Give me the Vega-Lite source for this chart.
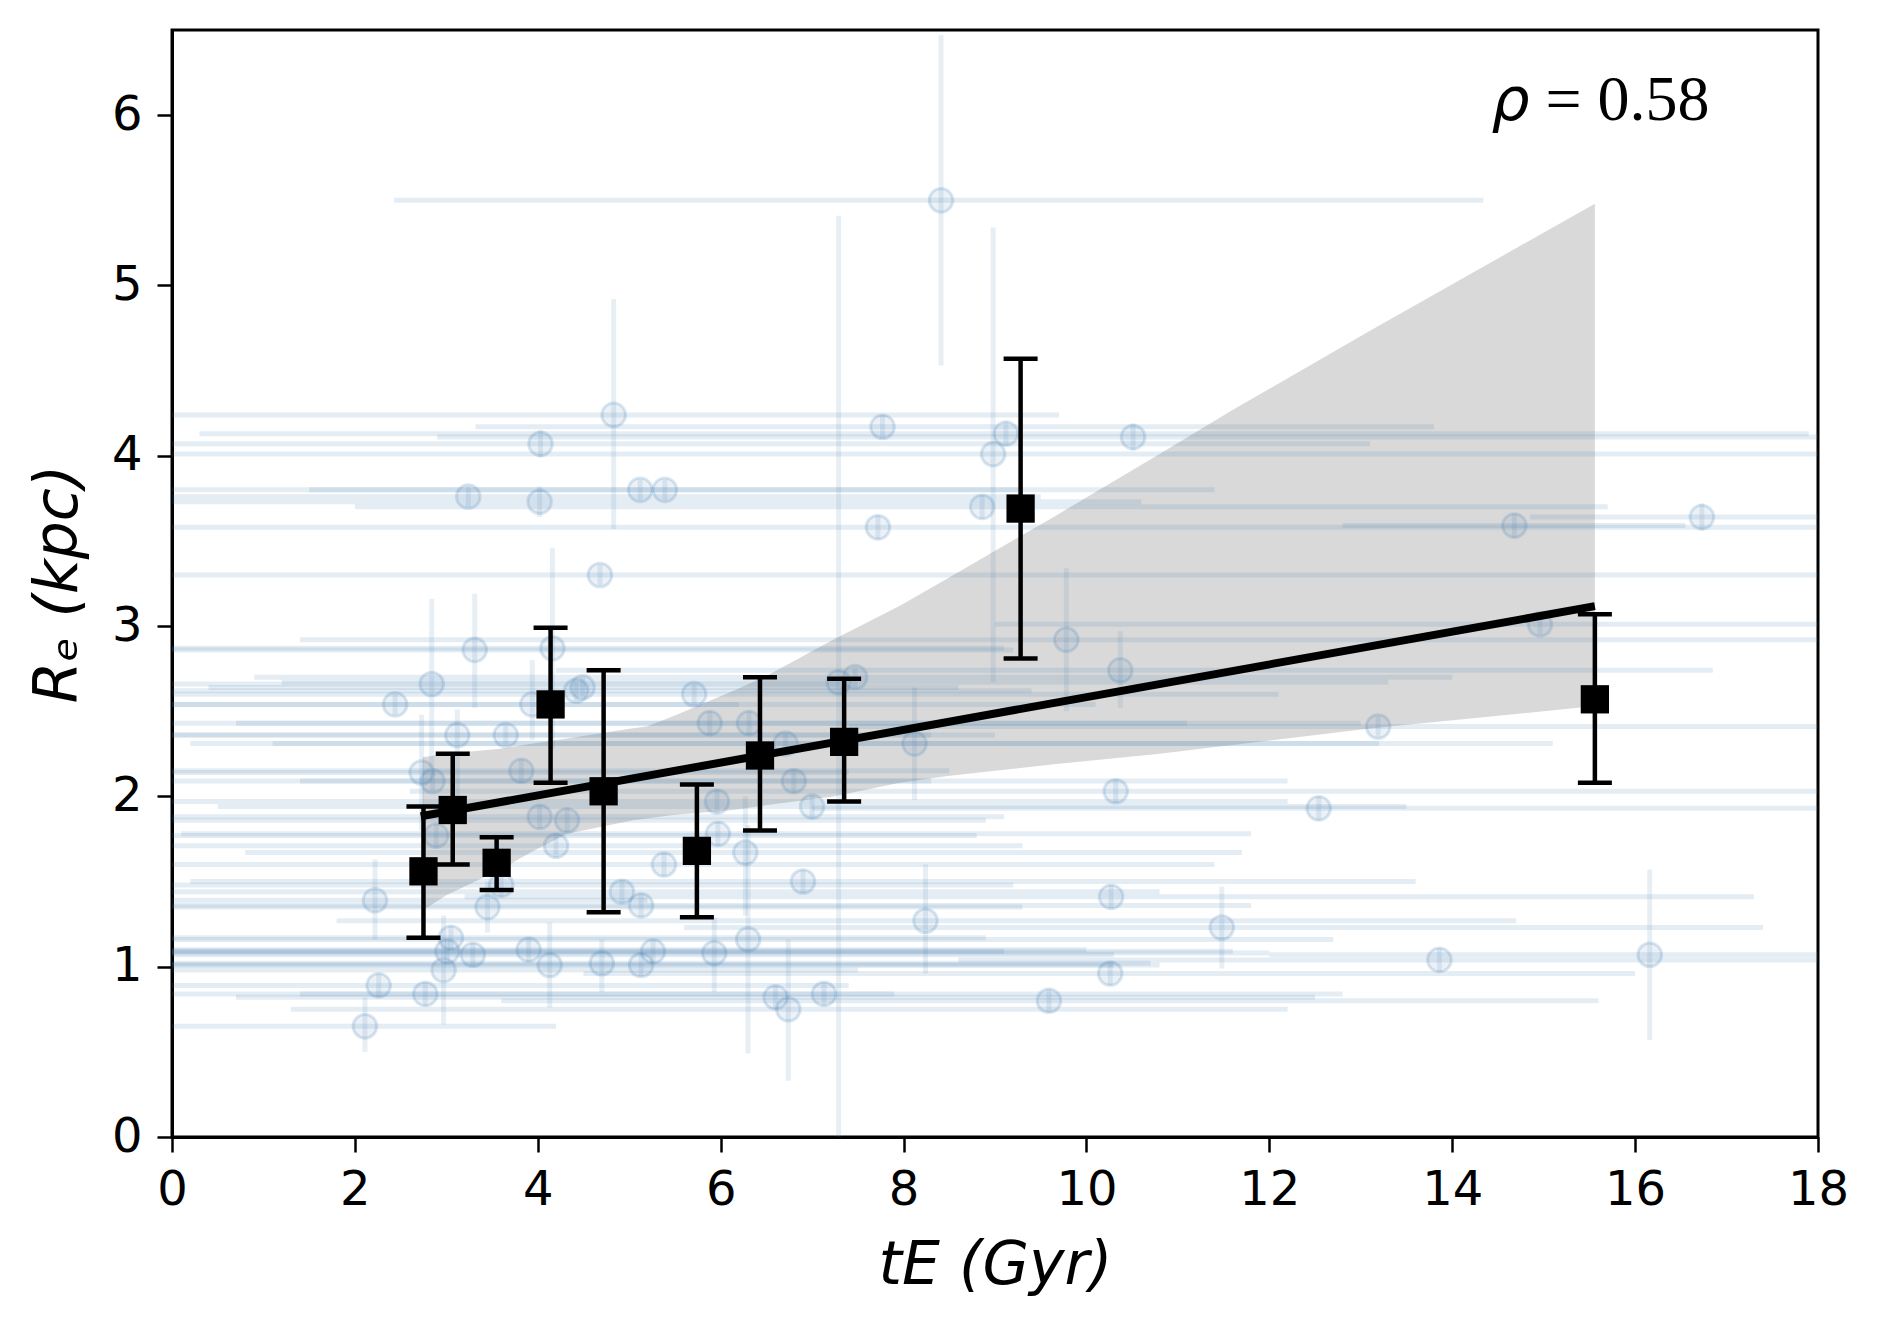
{
  "$schema": "https://vega.github.io/schema/vega-lite/v6.json",
  "width": 1646,
  "height": 1107,
  "autosize": "none",
  "padding": {"left": 172, "top": 30, "right": 61, "bottom": 189},
  "background": "white",
  "datasets": {
    "pts": [
      {"x": 8.41, "y": 5.50, "xlo": 2.43, "xhi": 14.34, "ylo": 4.53, "yhi": 6.47},
      {"x": 4.83, "y": 4.24, "xlo": -0.5, "xhi": 9.7, "ylo": 3.57, "yhi": 4.92},
      {"x": 4.03, "y": 4.07, "xlo": -5.0, "xhi": 13.1, "ylo": 3.99, "yhi": 4.15},
      {"x": 7.77, "y": 4.17, "xlo": 3.32, "xhi": 13.8, "ylo": 4.10, "yhi": 4.24},
      {"x": 10.51, "y": 4.11, "xlo": 2.9, "xhi": 18.5, "ylo": 4.03, "yhi": 4.19},
      {"x": 9.12, "y": 4.13, "xlo": 0.3, "xhi": 17.9, "ylo": 4.06, "yhi": 4.20},
      {"x": 8.98, "y": 4.01, "xlo": -1.0, "xhi": 19.0, "ylo": 2.67, "yhi": 5.34},
      {"x": 3.24, "y": 3.76, "xlo": -3.0, "xhi": 9.5, "ylo": 3.70, "yhi": 3.82},
      {"x": 4.02, "y": 3.73, "xlo": -2.5, "xhi": 10.6, "ylo": 3.64, "yhi": 3.82},
      {"x": 5.12, "y": 3.80, "xlo": -1.2, "xhi": 11.4, "ylo": 3.74, "yhi": 3.86},
      {"x": 5.39, "y": 3.80, "xlo": 1.5, "xhi": 9.3, "ylo": 3.74, "yhi": 3.86},
      {"x": 7.72, "y": 3.58, "xlo": -2.0, "xhi": 18.4, "ylo": 3.51, "yhi": 3.65},
      {"x": 8.86, "y": 3.70, "xlo": 2.0, "xhi": 15.7, "ylo": 3.63, "yhi": 3.77},
      {"x": 14.68, "y": 3.59, "xlo": 12.8, "xhi": 16.55, "ylo": 3.52, "yhi": 3.66},
      {"x": 16.73, "y": 3.64, "xlo": 14.85, "xhi": 18.6, "ylo": 3.56, "yhi": 3.72},
      {"x": 4.68, "y": 3.30, "xlo": -1.0, "xhi": 18.3, "ylo": 3.24, "yhi": 3.36},
      {"x": 4.16, "y": 2.87, "xlo": -0.8, "xhi": 9.1, "ylo": 2.28, "yhi": 3.46},
      {"x": 3.31, "y": 2.86, "xlo": -2.5, "xhi": 9.2, "ylo": 2.52, "yhi": 3.19},
      {"x": 9.78, "y": 2.92, "xlo": 1.4, "xhi": 18.2, "ylo": 2.50, "yhi": 3.34},
      {"x": 14.96, "y": 3.01, "xlo": 9.0, "xhi": 18.8, "ylo": 2.95, "yhi": 3.07},
      {"x": 2.84, "y": 2.66, "xlo": -1.6, "xhi": 7.3, "ylo": 2.17, "yhi": 3.16},
      {"x": 2.44, "y": 2.54, "xlo": -1.3, "xhi": 6.2, "ylo": 2.48, "yhi": 2.60},
      {"x": 4.42, "y": 2.62, "xlo": -0.6, "xhi": 9.4, "ylo": 2.56, "yhi": 2.68},
      {"x": 4.49, "y": 2.64, "xlo": 0.4, "xhi": 8.6, "ylo": 2.58, "yhi": 2.70},
      {"x": 3.94, "y": 2.54, "xlo": -2.2, "xhi": 10.1, "ylo": 2.33, "yhi": 2.80},
      {"x": 10.37, "y": 2.74, "xlo": 4.2, "xhi": 16.85, "ylo": 2.52, "yhi": 2.97},
      {"x": 5.71, "y": 2.60, "xlo": -0.7, "xhi": 12.1, "ylo": 2.54, "yhi": 2.66},
      {"x": 5.88, "y": 2.43, "xlo": 0.7, "xhi": 11.1, "ylo": 2.36, "yhi": 2.50},
      {"x": 7.47, "y": 2.70, "xlo": 0.9, "xhi": 14.0, "ylo": 2.64, "yhi": 2.76},
      {"x": 7.29, "y": 2.67, "xlo": 1.2, "xhi": 13.3, "ylo": -0.07, "yhi": 5.41},
      {"x": 6.31, "y": 2.43, "xlo": -0.4, "xhi": 13.0, "ylo": 2.36, "yhi": 2.50},
      {"x": 6.71, "y": 2.31, "xlo": 0.2, "xhi": 13.2, "ylo": 2.25, "yhi": 2.37},
      {"x": 8.12, "y": 2.31, "xlo": 1.1, "xhi": 15.1, "ylo": 1.98, "yhi": 2.64},
      {"x": 13.19, "y": 2.41, "xlo": 7.4, "xhi": 18.9, "ylo": 2.35, "yhi": 2.47},
      {"x": 3.12, "y": 2.36, "xlo": -2.1, "xhi": 8.3, "ylo": 1.90, "yhi": 2.51},
      {"x": 3.65, "y": 2.36, "xlo": -1.7, "xhi": 9.0, "ylo": 2.30, "yhi": 2.42},
      {"x": 2.73, "y": 2.14, "xlo": -1.9, "xhi": 7.4, "ylo": 1.80, "yhi": 2.48},
      {"x": 2.85, "y": 2.09, "xlo": -2.6, "xhi": 8.3, "ylo": 2.03, "yhi": 2.15},
      {"x": 3.82, "y": 2.15, "xlo": -0.9, "xhi": 8.5, "ylo": 2.08, "yhi": 2.22},
      {"x": 5.96, "y": 1.97, "xlo": -0.2, "xhi": 12.2, "ylo": 1.90, "yhi": 2.04},
      {"x": 6.80, "y": 2.09, "xlo": 1.4, "xhi": 12.2, "ylo": 2.02, "yhi": 2.16},
      {"x": 7.00, "y": 1.94, "xlo": 0.5, "xhi": 13.5, "ylo": 1.87, "yhi": 2.01},
      {"x": 10.32, "y": 2.03, "xlo": 2.6, "xhi": 18.0, "ylo": 1.96, "yhi": 2.10},
      {"x": 12.54, "y": 1.93, "xlo": 7.0, "xhi": 18.1, "ylo": 1.86, "yhi": 2.00},
      {"x": 4.02, "y": 1.88, "xlo": -1.1, "xhi": 9.1, "ylo": 1.81, "yhi": 1.95},
      {"x": 4.32, "y": 1.86, "xlo": -0.3, "xhi": 8.9, "ylo": 1.79, "yhi": 1.93},
      {"x": 2.89, "y": 1.77, "xlo": -3.0, "xhi": 8.8, "ylo": 1.70, "yhi": 1.84},
      {"x": 5.97, "y": 1.78, "xlo": 0.1, "xhi": 11.8, "ylo": 1.71, "yhi": 1.85},
      {"x": 4.20, "y": 1.71, "xlo": -0.9, "xhi": 9.3, "ylo": 1.64, "yhi": 1.78},
      {"x": 5.38, "y": 1.60, "xlo": -0.6, "xhi": 11.4, "ylo": 1.53, "yhi": 1.67},
      {"x": 6.27, "y": 1.67, "xlo": 0.8, "xhi": 11.7, "ylo": 1.30, "yhi": 2.00},
      {"x": 3.60, "y": 1.48, "xlo": -2.0, "xhi": 9.2, "ylo": 1.41, "yhi": 1.55},
      {"x": 2.22, "y": 1.39, "xlo": -0.8, "xhi": 5.2, "ylo": 1.16, "yhi": 1.63},
      {"x": 3.45, "y": 1.35, "xlo": -2.4, "xhi": 9.3, "ylo": 1.20, "yhi": 1.50},
      {"x": 4.92, "y": 1.44, "xlo": -1.0, "xhi": 10.8, "ylo": 1.37, "yhi": 1.51},
      {"x": 5.13, "y": 1.36, "xlo": -1.5, "xhi": 11.8, "ylo": 1.29, "yhi": 1.43},
      {"x": 6.90, "y": 1.50, "xlo": 0.2, "xhi": 13.6, "ylo": 1.43, "yhi": 1.57},
      {"x": 10.27, "y": 1.41, "xlo": 3.2, "xhi": 17.3, "ylo": 1.34, "yhi": 1.48},
      {"x": 8.24, "y": 1.27, "xlo": 1.8, "xhi": 14.7, "ylo": 0.96, "yhi": 1.60},
      {"x": 11.48, "y": 1.23, "xlo": 5.6, "xhi": 17.4, "ylo": 0.99, "yhi": 1.47},
      {"x": 3.05, "y": 1.17, "xlo": -2.8, "xhi": 8.9, "ylo": 1.10, "yhi": 1.24},
      {"x": 6.30, "y": 1.16, "xlo": -0.1, "xhi": 12.7, "ylo": 0.49, "yhi": 1.83},
      {"x": 3.29, "y": 1.07, "xlo": -3.7, "xhi": 10.3, "ylo": 1.00, "yhi": 1.14},
      {"x": 3.01, "y": 1.09, "xlo": -3.1, "xhi": 9.1, "ylo": 1.02, "yhi": 1.16},
      {"x": 3.90, "y": 1.10, "xlo": -2.2, "xhi": 10.0, "ylo": 1.03, "yhi": 1.17},
      {"x": 4.13, "y": 1.01, "xlo": -2.0, "xhi": 10.3, "ylo": 0.76, "yhi": 1.26},
      {"x": 4.70, "y": 1.02, "xlo": -1.3, "xhi": 10.7, "ylo": 0.85, "yhi": 1.16},
      {"x": 5.13, "y": 1.01, "xlo": -0.5, "xhi": 10.8, "ylo": 0.94, "yhi": 1.08},
      {"x": 5.26, "y": 1.09, "xlo": -1.1, "xhi": 11.6, "ylo": 1.02, "yhi": 1.16},
      {"x": 5.93, "y": 1.08, "xlo": -0.1, "xhi": 12.0, "ylo": 0.85, "yhi": 1.29},
      {"x": 13.86, "y": 1.04, "xlo": 8.6, "xhi": 19.1, "ylo": 0.97, "yhi": 1.11},
      {"x": 16.16, "y": 1.07, "xlo": 12.0, "xhi": 20.3, "ylo": 0.57, "yhi": 1.57},
      {"x": 2.97, "y": 0.98, "xlo": -1.6, "xhi": 7.5, "ylo": 0.66, "yhi": 1.30},
      {"x": 2.26, "y": 0.89, "xlo": -2.9, "xhi": 7.4, "ylo": 0.82, "yhi": 0.96},
      {"x": 2.77, "y": 0.84, "xlo": -2.4, "xhi": 7.9, "ylo": 0.77, "yhi": 0.91},
      {"x": 6.60, "y": 0.82, "xlo": 0.7, "xhi": 12.5, "ylo": 0.75, "yhi": 0.89},
      {"x": 6.74, "y": 0.75, "xlo": 1.3, "xhi": 12.2, "ylo": 0.33, "yhi": 1.16},
      {"x": 7.13, "y": 0.84, "xlo": 1.4, "xhi": 12.8, "ylo": 0.77, "yhi": 0.91},
      {"x": 9.59, "y": 0.80, "xlo": 3.6, "xhi": 15.6, "ylo": 0.73, "yhi": 0.87},
      {"x": 10.26, "y": 0.96, "xlo": 4.5, "xhi": 16.0, "ylo": 0.89, "yhi": 1.03},
      {"x": 2.11, "y": 0.65, "xlo": -0.2, "xhi": 4.2, "ylo": 0.50, "yhi": 0.82}
    ],
    "bins": [
      {"x": 2.75, "y": 1.56, "lo": 1.17, "hi": 1.94},
      {"x": 3.07, "y": 1.92, "lo": 1.60, "hi": 2.25},
      {"x": 3.55, "y": 1.61, "lo": 1.45, "hi": 1.76},
      {"x": 4.14, "y": 2.54, "lo": 2.08, "hi": 2.99},
      {"x": 4.72, "y": 2.03, "lo": 1.32, "hi": 2.74},
      {"x": 5.74, "y": 1.68, "lo": 1.29, "hi": 2.07},
      {"x": 6.43, "y": 2.24, "lo": 1.80, "hi": 2.70},
      {"x": 7.35, "y": 2.32, "lo": 1.97, "hi": 2.69},
      {"x": 9.28, "y": 3.69, "lo": 2.81, "hi": 4.57},
      {"x": 15.56, "y": 2.57, "lo": 2.08, "hi": 3.07}
    ],
    "fit": [
      {"x": 2.72, "y": 1.883},
      {"x": 15.56, "y": 3.117}
    ],
    "band": [
      {"x": 2.74, "lo": 1.33, "hi": 2.23},
      {"x": 3.0, "lo": 1.42, "hi": 2.25},
      {"x": 3.59, "lo": 1.57, "hi": 2.28},
      {"x": 3.95, "lo": 1.68, "hi": 2.31},
      {"x": 4.32, "lo": 1.78, "hi": 2.34},
      {"x": 5.04, "lo": 1.86, "hi": 2.40},
      {"x": 5.19, "lo": 1.87, "hi": 2.41},
      {"x": 5.48, "lo": 1.89, "hi": 2.47},
      {"x": 6.14, "lo": 1.92, "hi": 2.62},
      {"x": 6.51, "lo": 1.95, "hi": 2.71},
      {"x": 7.23, "lo": 2.00, "hi": 2.92},
      {"x": 7.96, "lo": 2.08, "hi": 3.12},
      {"x": 8.48, "lo": 2.12, "hi": 3.28},
      {"x": 9.67, "lo": 2.19, "hi": 3.65},
      {"x": 10.80, "lo": 2.25, "hi": 4.01},
      {"x": 11.57, "lo": 2.30, "hi": 4.26},
      {"x": 13.12, "lo": 2.40, "hi": 4.74},
      {"x": 15.56, "lo": 2.53, "hi": 5.48}
    ]
  },
  "encoding": {
    "x": {
      "type": "quantitative",
      "scale": {"domain": [0, 18], "nice": false, "zero": false},
      "axis": {
        "title": "tE (Gyr)",
        "values": [0, 2, 4, 6, 8, 10, 12, 14, 16, 18],
        "titleFontStyle": "italic",
        "titlePadding": 22
      }
    },
    "y": {
      "type": "quantitative",
      "scale": {"domain": [0, 6.5], "nice": false, "zero": false},
      "axis": {
        "title": "Rₑ (kpc)",
        "values": [0, 1, 2, 3, 4, 5, 6],
        "titleFontStyle": "italic",
        "titlePadding": 22
      }
    }
  },
  "layer": [
    {
      "data": {"name": "band"},
      "mark": {"type": "area", "color": "#808080", "opacity": 0.3},
      "encoding": {
        "x": {"field": "x"},
        "y": {"field": "lo"},
        "y2": {"field": "hi"}
      }
    },
    {
      "data": {"name": "pts"},
      "mark": {"type": "rule", "color": "#4682b4", "opacity": 0.14, "strokeWidth": 5, "clip": true},
      "encoding": {
        "x": {"field": "xlo"},
        "x2": {"field": "xhi"},
        "y": {"field": "y"}
      }
    },
    {
      "data": {"name": "pts"},
      "mark": {"type": "rule", "color": "#4682b4", "opacity": 0.13, "strokeWidth": 5, "clip": true},
      "encoding": {
        "x": {"field": "x"},
        "y": {"field": "ylo"},
        "y2": {"field": "yhi"}
      }
    },
    {
      "data": {"name": "pts"},
      "mark": {"type": "point", "shape": "circle", "filled": false, "size": 560, "fill": "#4682b4", "fillOpacity": 0.11, "stroke": "#4682b4", "strokeOpacity": 0.2, "strokeWidth": 3, "clip": true},
      "encoding": {
        "x": {"field": "x"},
        "y": {"field": "y"}
      }
    },
    {
      "data": {"name": "fit"},
      "mark": {"type": "line", "color": "black", "strokeWidth": 8},
      "encoding": {
        "x": {"field": "x"},
        "y": {"field": "y"}
      }
    },
    {
      "data": {"name": "bins"},
      "mark": {"type": "rule", "color": "black", "strokeWidth": 4.5},
      "encoding": {
        "x": {"field": "x"},
        "y": {"field": "lo"},
        "y2": {"field": "hi"}
      }
    },
    {
      "data": {"name": "bins"},
      "mark": {"type": "tick", "orient": "horizontal", "color": "black", "size": 34, "thickness": 4.5, "opacity": 1},
      "encoding": {
        "x": {"field": "x"},
        "y": {"field": "lo"}
      }
    },
    {
      "data": {"name": "bins"},
      "mark": {"type": "tick", "orient": "horizontal", "color": "black", "size": 34, "thickness": 4.5, "opacity": 1},
      "encoding": {
        "x": {"field": "x"},
        "y": {"field": "hi"}
      }
    },
    {
      "data": {"name": "bins"},
      "mark": {"type": "square", "color": "black", "size": 800, "filled": true, "opacity": 1},
      "encoding": {
        "x": {"field": "x"},
        "y": {"field": "y"}
      }
    },
    {
      "data": {"values": [{"label": "ρ"}]},
      "mark": {"type": "text", "font": "DejaVu Sans", "fontStyle": "italic", "fontSize": 60, "align": "left", "baseline": "alphabetic", "color": "black"},
      "encoding": {
        "x": {"datum": 14.43},
        "y": {"datum": 5.97},
        "text": {"field": "label"}
      }
    },
    {
      "data": {"values": [{"label": "= 0.58"}]},
      "mark": {"type": "text", "font": "Liberation Serif", "fontSize": 64, "align": "left", "baseline": "alphabetic", "color": "black"},
      "encoding": {
        "x": {"datum": 15.02},
        "y": {"datum": 5.97},
        "text": {"field": "label"}
      }
    }
  ],
  "config": {
    "font": "DejaVu Sans",
    "view": {"stroke": "black", "strokeWidth": 3},
    "axis": {
      "grid": false,
      "domainColor": "black",
      "domainWidth": 3,
      "tickColor": "black",
      "tickWidth": 2.5,
      "tickSize": 15,
      "labelFontSize": 48,
      "labelColor": "black",
      "labelPadding": 14,
      "labelFlush": false,
      "labelFont": "DejaVu Sans",
      "titleFont": "DejaVu Sans",
      "titleFontSize": 60,
      "titleFontWeight": "normal",
      "titleColor": "black"
    },
    "axisY": {"labelPadding": 15}
  }
}
